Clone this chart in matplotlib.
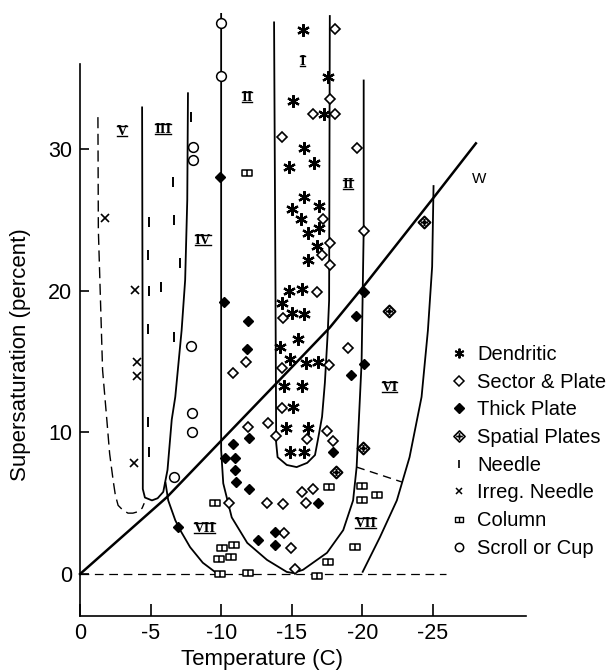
import matplotlib.pyplot as plt
from matplotlib.path import Path
from matplotlib.lines import Line2D

plt.rcParams['font.family'] = 'Liberation Sans'
plt.rcParams['axes.unicode_minus'] = False

# Observed crystal habits: temperature (C) and supersaturation (percent)
dendritic_t = [-15.8, -17.6, -15.1, -17.3, -15.9, -14.8, -16.6, -15.9, -15.0, -16.9, -15.65,
               -16.15, -16.9, -16.8, -16.15, -14.8, -15.7, -14.3, -15.0, -15.9, -15.45, -14.15,
               -14.85, -16.0, -16.85, -14.45, -15.7, -15.1, -14.6, -16.15, -14.85, -15.85]
dendritic_s = [38.4, 35.1, 33.4, 32.5, 30.1, 28.7, 29.0, 26.6, 25.8, 26.0, 25.05,
               24.1, 24.4, 23.15, 22.2, 20.0, 20.1, 19.1, 18.4, 18.35, 16.6, 16.0,
               15.2, 14.9, 14.95, 13.3, 13.3, 11.8, 10.3, 10.3, 8.6, 8.6]

sector_t = [-18.05, -17.7, -16.5, -18.05, -14.3, -19.6, -17.2, -20.1, -17.7, -17.15, -17.7,
            -16.8, -14.4, -19.0, -11.75, -17.65, -14.3, -10.85, -14.3, -13.3, -11.9, -17.5,
            -13.9, -16.1, -17.9, -16.5, -15.7, -10.55, -13.25, -14.4, -16.0, -14.45, -14.95, -15.25]
sector_s = [38.45, 33.5, 32.5, 32.45, 30.85, 30.05, 25.05, 24.2, 23.4, 22.5, 21.8,
            19.9, 18.05, 15.95, 14.95, 14.75, 14.55, 14.2, 11.7, 10.65, 10.35, 10.1,
            9.75, 9.55, 9.4, 6.0, 5.8, 5.0, 5.0, 4.95, 5.0, 2.9, 1.85, 0.35]

thick_t = [-9.9, -10.2, -11.9, -11.85, -20.1, -19.55, -20.1, -19.2, -10.85, -11.95, -10.25,
           -11.0, -11.0, -11.05, -11.95, -17.9, -16.85, -12.6, -13.8, -13.8, -6.95]
thick_s = [28.0, 19.2, 17.85, 15.9, 19.9, 18.2, 14.8, 14.05, 9.15, 9.6, 8.2,
           8.2, 7.35, 6.5, 6.0, 8.6, 5.0, 2.4, 2.95, 2.05, 3.3]

spatial_t = [-24.35, -21.9, -20.05, -18.15]
spatial_s = [24.85, 18.55, 8.9, 7.2]

needle_t = [-7.85, -6.6, -6.65, -4.9, -4.8, -7.1, -4.9, -5.75, -4.8, -6.65, -4.8, -4.9]
needle_s = [32.25, 27.65, 25.0, 24.85, 22.5, 21.95, 19.95, 20.25, 17.3, 16.7, 10.75, 8.6]

irreg_t = [-1.8, -3.9, -4.05, -4.05, -3.8]
irreg_s = [25.1, 20.05, 14.95, 13.95, 7.85]

column_t = [-11.85, -9.55, -10.05, -10.9, -9.85, -10.7, -9.9, -11.9, -17.65, -17.55, -16.8,
            -19.95, -21.05, -19.95, -19.5]
column_s = [28.3, 5.0, 1.85, 2.05, 1.05, 1.2, 0.0, 0.05, 6.15, 0.85, -0.15,
            6.2, 5.6, 5.2, 1.9]

scroll_t = [-10.0, -10.0, -8.0, -8.0, -7.85, -7.95, -7.95, -6.65]
scroll_s = [38.9, 35.15, 30.15, 29.2, 16.1, 11.35, 10.0, 6.85]

# Region boundaries
water_t = [0, -6.16, -13.95, -17.7, -20.25, -25.0, -28.05]
water_s = [0, 5.43, 13.5, 17.4, 20.5, 26.5, 30.4]

v_edge_t = [-1.27, -1.3, -1.6, -1.9, -2.1, -2.35, -2.5, -2.7, -3.05, -3.4, -3.75, -4.1, -4.4, -4.55]
v_edge_s = [32.25, 24.3, 14.4, 10.9, 8.5, 6.6, 5.6, 4.85, 4.5, 4.3, 4.3, 4.4, 4.65, 5.0]

iii_edge_t = [-4.4, -4.45, -4.45, -4.6, -5.1, -5.5, -5.9, -6.2, -6.5, -6.75, -7.2, -7.45, -7.6, -7.65]
iii_edge_s = [33.0, 10.0, 6.0, 5.4, 5.2, 5.35, 5.8, 7.35, 10.9, 12.5, 17.2, 20.75, 26.4, 34.0]

vii_left_t = [-6.05, -6.25, -6.75, -7.1, -7.8, -8.7, -9.7]
vii_left_s = [6.5, 5.2, 3.8, 3.1, 1.9, 0.8, 0.05]

ii_edge_t = [-10.0, -10.0, -10.15, -10.75, -11.85, -13.25, -14.65, -15.1, -15.8, -17.5, -18.65,
             -19.35, -19.6, -19.95, -20.1, -20.1]
ii_edge_s = [39.6, 8.75, 6.4, 4.0, 2.2, 1.0, 0.15, 0.07, 0.3, 1.5, 3.1,
             5.2, 7.55, 14.9, 24.3, 34.9]

i_edge_t = [-13.75, -13.85, -13.9, -14.0, -14.65, -15.35, -16.1, -16.65, -16.85, -17.15, -17.35,
            -17.55, -17.65, -17.7]
i_edge_s = [39.0, 20.0, 9.25, 8.25, 7.7, 7.55, 7.85, 8.4, 9.45, 11.1, 13.5,
            17.0, 19.3, 39.45]

vi_edge_t = [-25.05, -24.95, -24.65, -24.2, -23.35, -22.45, -21.25, -20.0]
vi_edge_s = [27.45, 21.7, 17.2, 12.5, 8.25, 5.2, 2.6, 0.1]

vi_vii_t = [-19.6, -22.8]
vi_vii_s = [7.55, 6.5]

zero_t = [0, -25.9]
zero_s = [0, 0]

region_names = ['V', 'III', 'IV', 'II', 'I', 'II', 'VI', 'VII', 'VII']
region_t = [-2.97, -5.88, -8.71, -11.83, -15.79, -18.98, -21.95, -8.85, -20.25]
region_s = [31.26, 31.4, 23.57, 33.66, 36.2, 27.5, 13.2, 3.25, 3.6]

x_ticks = [0, -5, -10, -15, -20, -25]
x_tick_labels = ['0', '-5', '-10', '-15', '-20', '-25']
y_ticks = [0, 10, 20, 30]

# custom marker shapes
column_marker = Path([(-1, -0.6), (1, -0.6), (1, 0.6), (-1, 0.6), (-1, -0.6), (0, -0.6), (0, 0.6)],
                     [Path.MOVETO, Path.LINETO, Path.LINETO, Path.LINETO, Path.CLOSEPOLY,
                      Path.MOVETO, Path.LINETO])
spatial_marker = Path([(0, 1), (1, 0), (0, -1), (-1, 0), (0, 1),
                       (0, 0.6), (0, -0.6), (-0.6, 0), (0.6, 0)],
                      [Path.MOVETO, Path.LINETO, Path.LINETO, Path.LINETO, Path.CLOSEPOLY,
                       Path.MOVETO, Path.LINETO, Path.MOVETO, Path.LINETO])

styles = {
    'Dendritic': dict(marker=(6, 2, 0), ms=9.0, mew=1.6, mfc='black', mec='black'),
    'Sector & Plate': dict(marker='D', ms=5.6, mew=1.2, mfc='white', mec='black'),
    'Thick Plate': dict(marker='D', ms=5.2, mew=1.0, mfc='black', mec='black'),
    'Spatial Plates': dict(marker=spatial_marker, ms=8.5, mew=1.5, mfc='white', mec='black'),
    'Needle': dict(marker='|', ms=6.5, mew=1.4, mfc='black', mec='black'),
    'Irreg. Needle': dict(marker='x', ms=5.5, mew=1.2, mfc='black', mec='black'),
    'Column': dict(marker=column_marker, ms=7.0, mew=1.1, mfc='white', mec='black'),
    'Scroll or Cup': dict(marker='o', ms=7.0, mew=1.1, mfc='white', mec='black'),
}
legend_sizes = {
    'Dendritic': (7.0, 1.4), 'Sector & Plate': (5.0, 1.1), 'Thick Plate': (5.2, 1.0),
    'Spatial Plates': (8.0, 1.2), 'Needle': (5.5, 1.2), 'Irreg. Needle': (5.0, 1.1),
    'Column': (6.0, 1.0), 'Scroll or Cup': (6.0, 1.1),
}
series = {
    'Dendritic': (dendritic_t, dendritic_s),
    'Sector & Plate': (sector_t, sector_s),
    'Thick Plate': (thick_t, thick_s),
    'Spatial Plates': (spatial_t, spatial_s),
    'Needle': (needle_t, needle_s),
    'Irreg. Needle': (irreg_t, irreg_s),
    'Column': (column_t, column_s),
    'Scroll or Cup': (scroll_t, scroll_s),
}

fig = plt.figure(figsize=(6.1, 6.72), dpi=100)
ax = fig.add_axes([80 / 610, 1 - 616 / 672, 446 / 610, 552 / 672])

solid = dict(color='black', lw=1.3, clip_on=False, zorder=2, solid_capstyle='butt')
ax.plot(water_t, water_s, color='black', lw=1.8, clip_on=False, zorder=2)
for t, s in [(iii_edge_t, iii_edge_s), (vii_left_t, vii_left_s), (ii_edge_t, ii_edge_s),
             (i_edge_t, i_edge_s), (vi_edge_t, vi_edge_s)]:
    ax.plot(t, s, **solid)
ax.plot(v_edge_t, v_edge_s, color='black', lw=1.0, dashes=(8, 4), clip_on=False, zorder=2)
ax.plot(zero_t, zero_s, color='black', lw=0.9, dashes=(7, 4.5), clip_on=False, zorder=2)
ax.plot(vi_vii_t, vi_vii_s, color='black', lw=1.0, dashes=(6, 4), clip_on=False, zorder=2)

for name, (t, s) in series.items():
    ax.plot(t, s, ls='none', clip_on=False, zorder=4, **styles[name])

# region numerals, drawn with bars above and below
numerals = []
for name, t, s in zip(region_names, region_t, region_s):
    numerals.append(ax.text(t, s, name, ha='center', va='center', fontsize=10.5,
                            family='Liberation Serif', weight='bold', zorder=3))
ax.text(-28.26, 27.9, 'W', ha='center', va='center', fontsize=11, zorder=3)

ax.set_xlim(0, -31.6)
ax.set_ylim(-2.96, 36.0)
ax.set_xticks(x_ticks)
ax.set_xticklabels(x_tick_labels)
ax.set_yticks(y_ticks)
ax.spines['top'].set_visible(False)
ax.spines['right'].set_visible(False)
for side in ['left', 'bottom']:
    ax.spines[side].set_linewidth(1.2)
ax.tick_params(axis='both', direction='in', width=1.2, labelsize=15.5)
ax.tick_params(axis='x', length=8.6, pad=5)
ax.tick_params(axis='y', length=6.5, pad=5.5)

fig.text(21 / 610, 1 - 355 / 672, 'Supersaturation (percent)', rotation=90,
         ha='center', va='center', fontsize=16)
fig.text(262 / 610, 1 - 660 / 672, 'Temperature (C)', ha='center', va='center', fontsize=16)

handles = []
for name in series:
    st = dict(styles[name])
    st['ms'], st['mew'] = legend_sizes[name]
    handles.append(Line2D([], [], ls='none', **st))
ax.legend(handles, list(series.keys()), loc='upper left', bbox_to_anchor=(449 / 610, 1 - 345 / 672),
          bbox_transform=fig.transFigure, frameon=False, fontsize=14.5,
          handlelength=1.0, handletextpad=0.4, labelspacing=0.43, borderpad=0, borderaxespad=0)

fig.canvas.draw()
renderer = fig.canvas.get_renderer()
inv = fig.transFigure.inverted()
for txt in numerals:
    bb = txt.get_window_extent(renderer)
    cy = (bb.y0 + bb.y1) / 2
    half = 0.331 * 10.5 * fig.dpi / 72
    for y in (cy - half, cy + half):
        (x0, yy), (x1, _) = inv.transform([(bb.x0 + 0.5, y), (bb.x1 - 0.5, y)])
        fig.add_artist(Line2D([x0, x1], [yy, yy], color='black', lw=1.0,
                              transform=fig.transFigure))

fig.savefig('out.png', dpi=100)
